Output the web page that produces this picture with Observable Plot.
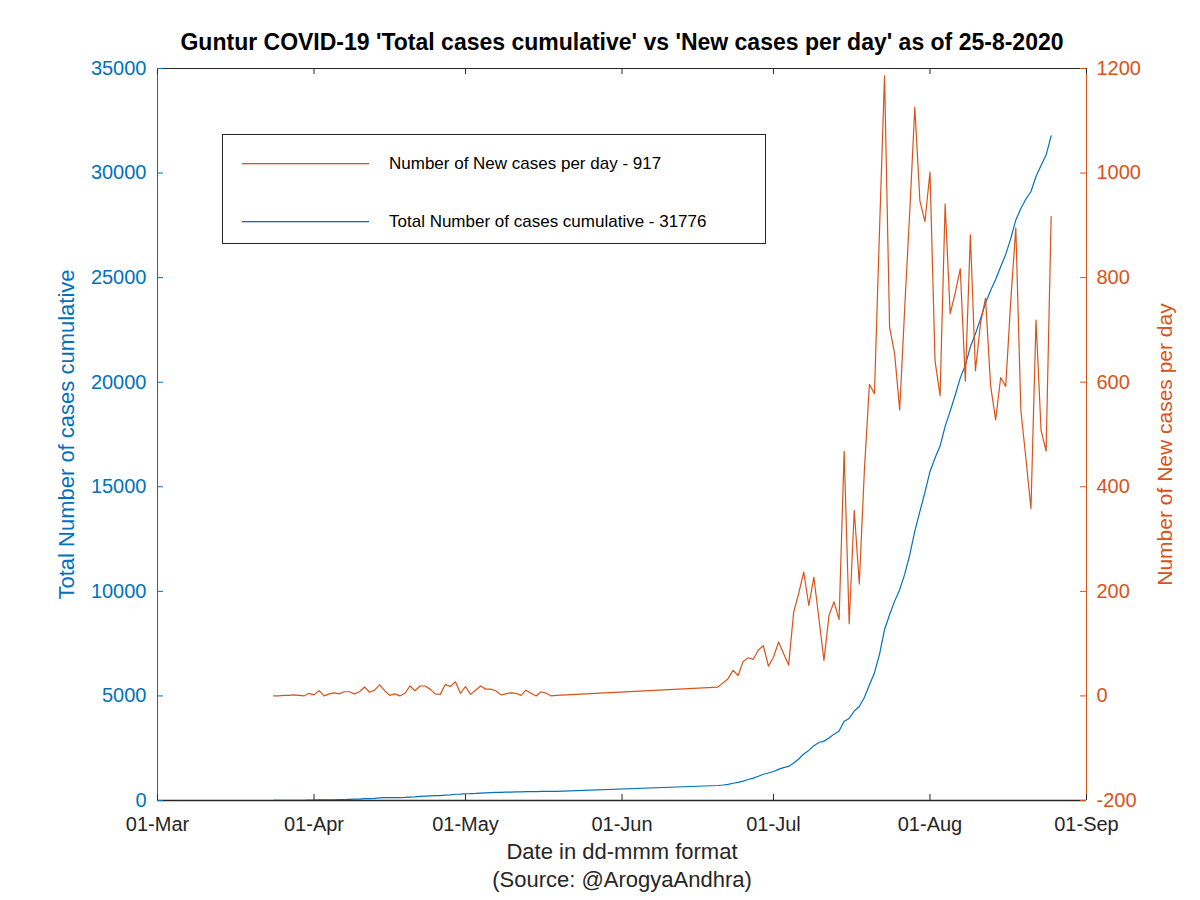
<!DOCTYPE html>
<html>
<head>
<meta charset="utf-8">
<script src="https://cdn.jsdelivr.net/npm/d3@7"></script>
<script src="https://cdn.jsdelivr.net/npm/@observablehq/plot@0.6"></script>
<style>
  html, body { margin: 0; padding: 0; background: #ffffff; }
  #chart { width: 1200px; height: 900px; }
</style>
</head>
<body>
<div id="chart"></div>
<script>
// ---------- Data ----------
const titleText = "Guntur COVID-19 'Total cases cumulative' vs 'New cases per day' as of 25-8-2020";
const xLabel = "Date in dd-mmm format";
const sourceLabel = "(Source: @ArogyaAndhra)";
const leftLabel = "Total Number of cases cumulative";
const rightLabel = "Number of New cases per day";
const legendNew = "Number of New cases per day - 917";
const legendTotal = "Total Number of cases cumulative - 31776";

const xTickDates = ["2020-03-01","2020-04-01","2020-05-01","2020-06-01","2020-07-01","2020-08-01","2020-09-01"];
const leftTicks = [0, 5000, 10000, 15000, 20000, 25000, 30000, 35000];
const rightTicks = [-200, 0, 200, 400, 600, 800, 1000, 1200];

const dates = [
  "2020-03-24","2020-03-25","2020-03-26","2020-03-27","2020-03-28","2020-03-29","2020-03-30","2020-03-31",
  "2020-04-01","2020-04-02","2020-04-03","2020-04-04","2020-04-05","2020-04-06","2020-04-07","2020-04-08","2020-04-09","2020-04-10",
  "2020-04-11","2020-04-12","2020-04-13","2020-04-14","2020-04-15","2020-04-16","2020-04-17","2020-04-18","2020-04-19","2020-04-20",
  "2020-04-21","2020-04-22","2020-04-23","2020-04-24","2020-04-25","2020-04-26","2020-04-27","2020-04-28","2020-04-29","2020-04-30",
  "2020-05-01","2020-05-02","2020-05-03","2020-05-04","2020-05-05","2020-05-06","2020-05-07","2020-05-08","2020-05-09","2020-05-10",
  "2020-05-11","2020-05-12","2020-05-13","2020-05-14","2020-05-15","2020-05-16","2020-05-17","2020-05-18","2020-05-19",
  "2020-06-20","2020-06-21","2020-06-22","2020-06-23","2020-06-24","2020-06-25","2020-06-26","2020-06-27","2020-06-28","2020-06-29","2020-06-30",
  "2020-07-01","2020-07-02","2020-07-03","2020-07-04","2020-07-05","2020-07-06","2020-07-07","2020-07-08","2020-07-09","2020-07-10",
  "2020-07-11","2020-07-12","2020-07-13","2020-07-14","2020-07-15","2020-07-16","2020-07-17","2020-07-18","2020-07-19","2020-07-20",
  "2020-07-21","2020-07-22","2020-07-23","2020-07-24","2020-07-25","2020-07-26","2020-07-27","2020-07-28","2020-07-29","2020-07-30","2020-07-31",
  "2020-08-01","2020-08-02","2020-08-03","2020-08-04","2020-08-05","2020-08-06","2020-08-07","2020-08-08","2020-08-09","2020-08-10",
  "2020-08-11","2020-08-12","2020-08-13","2020-08-14","2020-08-15","2020-08-16","2020-08-17","2020-08-18","2020-08-19","2020-08-20",
  "2020-08-21","2020-08-22","2020-08-23","2020-08-24","2020-08-25"
];

const newCases = [
  0,0,1,1,2,1,0,5,2,10, 0,4,6,4,8,8,4,8,17,7,
  11,21,10,1,4,0,5,19,10,19, 19,13,4,3,22,18,27,5,18,3,
  11,19,13,13,10,2,4,6,5,1, 11,5,0,8,5,0,1,
  17,25,33,49,39,66,73,70,88,96, 57,74,103,81,59,160,196,237,173,227,
  148,68,154,180,146,468,138,355,214,430, 596,578,890,1186,705,654,547,743,928,1126,
  947,907,1002,641,574,941,731,771,817,602, 882,622,712,761,594,528,609,592,756,895,
  546,454,358,719,508,468,917
];

const totalCases = [
  5,5,6,7,9,10,10,15,17,27, 27,31,37,41,49,57,61,69,86,93,
  104,125,135,136,140,140,145,164,174,193, 212,225,229,232,254,272,299,304,322,325,
  336,355,368,381,391,393,397,403,408,409, 420,425,425,433,438,438,439,
  717,742,775,824,863,929,1002,1072,1160,1256, 1313,1387,1490,1571,1630,1790,1986,2223,2396,2623,
  2771,2839,2993,3173,3319,3787,3925,4280,4494,4924, 5520,6098,6988,8174,8879,9533,10080,10823,11751,12877,
  13824,14731,15733,16374,16948,17889,18620,19391,20208,20810, 21692,22314,23026,23787,24381,24909,25518,26110,26866,27761,
  28307,28761,29119,29838,30360,30859,31776
];

// ---------- Build ----------
const BLUE = "#0072BD";
const ORANGE = "#D95319";
const DARK = "#262626";
const FONT = "'Liberation Sans', Arial, Helvetica, sans-serif";

const leftMax = 35000, rMin = -200, rMax = 1200;
const toLeft = v => (v - rMin) * leftMax / (rMax - rMin);
const fromLeft = d => Math.round(d * (rMax - rMin) / leftMax + rMin);

const parse = d3.utcParse("%Y-%m-%d");
const rows = dates.map((d, i) => ({date: parse(d), nw: newCases[i], total: totalCases[i]}));
const xTicks = xTickDates.map(parse);
const xDomain = [xTicks[0], xTicks[xTicks.length - 1]];

const W = 1200, H = 900, mL = 157, mR = 114, mT = 68, mB = 100;
const frameW = W - mL - mR, frameH = H - mT - mB;
const tickLen = 6;

const chart = Plot.plot({
  width: W, height: H,
  marginLeft: mL, marginRight: mR, marginTop: mT, marginBottom: mB,
  style: {fontFamily: FONT, background: "#ffffff", color: DARK},
  x: {type: "utc", domain: xDomain},
  y: {domain: [0, leftMax]},
  marks: [
    // data lines
    Plot.line(rows, {x: "date", y: "total", stroke: BLUE, strokeWidth: 1.2}),
    Plot.line(rows, {x: "date", y: d => toLeft(d.nw), stroke: ORANGE, strokeWidth: 1.2}),
    // box
    Plot.ruleY([0], {stroke: DARK, strokeWidth: 1.5}),
    Plot.ruleY([leftMax], {stroke: DARK, strokeWidth: 1}),
    Plot.ruleX([xDomain[0]], {stroke: BLUE, strokeWidth: 1}),
    Plot.ruleX([xDomain[1]], {stroke: ORANGE, strokeWidth: 1}),
    // inward ticks
    Plot.tickX(xTicks, {x: d => d, insetTop: frameH - tickLen, stroke: DARK}),
    Plot.tickX(xTicks, {x: d => d, insetBottom: frameH - tickLen, stroke: DARK}),
    Plot.tickY(leftTicks, {y: d => d, insetRight: frameW - tickLen, stroke: BLUE}),
    Plot.tickY(rightTicks, {y: d => toLeft(d), insetLeft: frameW - tickLen, stroke: ORANGE}),
    // axes
    Plot.axisX({ticks: xTicks, tickFormat: d3.utcFormat("%d-%b"), tickSize: 0, tickPadding: 16,
      fontSize: 20, label: null, color: DARK}),
    Plot.axisY({anchor: "left", ticks: leftTicks, tickFormat: d => String(d), tickSize: 0, tickPadding: 11,
      fontSize: 20, label: null, color: BLUE}),
    Plot.axisY({anchor: "right", ticks: rightTicks.map(toLeft), tickFormat: d => String(fromLeft(d)),
      tickSize: 0, tickPadding: 10, fontSize: 20, label: null, color: ORANGE}),
    // titles
    Plot.text([titleText], {frameAnchor: "top", dy: -35, fontSize: 23, fontWeight: "bold", fill: "#000000"}),
    Plot.text([leftLabel], {frameAnchor: "left", textAnchor: "middle", dx: -91, rotate: -90, fontSize: 22, fill: BLUE}),
    Plot.text([rightLabel], {frameAnchor: "right", textAnchor: "middle", dx: 79, dy: 10, rotate: -90, fontSize: 21, fill: ORANGE}),
    Plot.text([xLabel], {frameAnchor: "bottom", dy: 58, fontSize: 22, fill: DARK}),
    Plot.text([sourceLabel], {frameAnchor: "bottom", dy: 86, fontSize: 22, fill: DARK})
  ]
});

// legend box (drawn on top of the plot, inside the frame)
const svg = d3.select(chart);
const lg = svg.append("g").attr("font-family", FONT).attr("font-size", 17).attr("text-anchor", "start");
lg.append("rect").attr("x", 222.5).attr("y", 134.5).attr("width", 543).attr("height", 109)
  .style("fill", "#ffffff").style("stroke", DARK).style("stroke-width", "1px");
const entries = [
  {label: legendNew, color: ORANGE, y: 163},
  {label: legendTotal, color: BLUE, y: 221}
];
entries.forEach(e => {
  lg.append("rect").attr("x", 242).attr("y", e.y).attr("width", 127).attr("height", 1.3)
    .style("fill", e.color).style("stroke", "none");
  lg.append("text").attr("x", 389).attr("y", e.y).attr("dy", "0.35em").attr("text-anchor", "start")
    .style("fill", "#000000").text(e.label);
});

document.getElementById("chart").appendChild(chart);
</script>
</body>
</html>
